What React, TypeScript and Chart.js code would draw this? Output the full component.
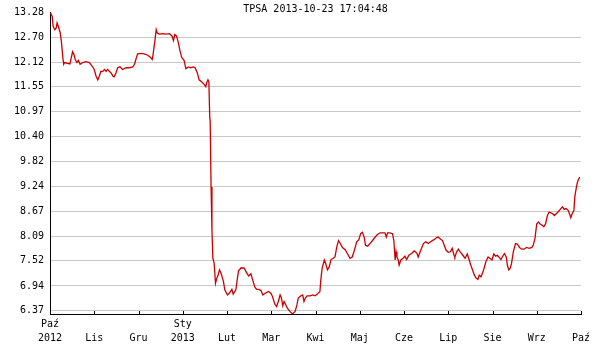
import React, { useEffect, useRef } from "react";
import { Chart, registerables } from "chart.js";

Chart.register(...registerables);

const TITLE = "TPSA 2013-10-23 17:04:48";
const MONTH_LABELS = ["Paź", "Lis", "Gru", "Sty", "Lut", "Mar", "Kwi", "Maj", "Cze", "Lip", "Sie", "Wrz", "Paź"];
const YEAR_LABELS: Record<number, string> = { 0: "2012", 3: "2013" };
const Y_TICKS = [6.37, 6.94, 7.52, 8.09, 8.67, 9.24, 9.82, 10.40, 10.97, 11.55, 12.12, 12.70, 13.28];
const Y_MIN = 6.29;
const Y_MAX = 13.28;

// time position in months since Paź 2012
const T = [
  0.01, 0.05, 0.07, 0.11, 0.14, 0.16, 0.20, 0.23, 0.26, 0.29, 0.31, 0.33, 0.45, 0.48, 0.51, 0.54, 0.57, 0.61, 0.64, 0.68,
  0.74, 0.81, 0.89, 0.95, 1.00, 1.04, 1.08, 1.11, 1.15, 1.19, 1.23, 1.27, 1.30, 1.34, 1.38, 1.42, 1.45, 1.49, 1.53, 1.58,
  1.64, 1.72, 1.79, 1.87, 1.91, 1.94, 1.98, 2.06, 2.13, 2.21, 2.26, 2.31, 2.33, 2.37, 2.40, 2.42, 2.47, 2.55, 2.62, 2.70,
  2.76, 2.79, 2.82, 2.86, 2.90, 2.94, 2.98, 3.03, 3.07, 3.13, 3.18, 3.24, 3.28, 3.33, 3.37, 3.43, 3.48, 3.52, 3.54, 3.57,
  3.59, 3.61, 3.62, 3.64, 3.66, 3.68, 3.71, 3.74, 3.77, 3.80, 3.83, 3.87, 3.92, 3.95, 4.01, 4.05, 4.11, 4.14, 4.20, 4.23,
  4.26, 4.32, 4.39, 4.45, 4.49, 4.54, 4.58, 4.63, 4.67, 4.72, 4.77, 4.81, 4.86, 4.90, 4.94, 4.99, 5.03, 5.08, 5.12, 5.16,
  5.20, 5.23, 5.26, 5.29, 5.33, 5.36, 5.42, 5.48, 5.54, 5.58, 5.61, 5.67, 5.71, 5.74, 5.77, 5.81, 5.88, 5.94, 5.99, 6.04,
  6.10, 6.12, 6.15, 6.20, 6.23, 6.27, 6.31, 6.35, 6.40, 6.44, 6.48, 6.52, 6.55, 6.61, 6.67, 6.72, 6.78, 6.83, 6.88, 6.93,
  6.98, 7.02, 7.06, 7.10, 7.13, 7.18, 7.23, 7.28, 7.34, 7.40, 7.46, 7.52, 7.57, 7.60, 7.63, 7.68, 7.74, 7.77, 7.80, 7.82,
  7.84, 7.87, 7.89, 7.93, 7.98, 8.02, 8.06, 8.11, 8.17, 8.23, 8.29, 8.32, 8.38, 8.44, 8.49, 8.55, 8.60, 8.64, 8.68, 8.74,
  8.77, 8.83, 8.87, 8.91, 8.95, 9.00, 9.05, 9.09, 9.13, 9.15, 9.19, 9.23, 9.27, 9.33, 9.38, 9.43, 9.47, 9.51, 9.55, 9.59,
  9.63, 9.67, 9.70, 9.74, 9.78, 9.81, 9.85, 9.90, 9.94, 9.99, 10.03, 10.07, 10.11, 10.15, 10.19, 10.22, 10.27, 10.31, 10.34, 10.37,
  10.40, 10.43, 10.47, 10.52, 10.56, 10.61, 10.66, 10.71, 10.77, 10.83, 10.89, 10.92, 10.96, 11.00, 11.04, 11.07, 11.13, 11.16, 11.20, 11.24,
  11.28, 11.32, 11.36, 11.40, 11.44, 11.48, 11.53, 11.58, 11.62, 11.66, 11.71, 11.74, 11.77, 11.80, 11.84, 11.86, 11.89, 11.92, 11.94, 11.97,
];

const PRICE = [
  13.26, 13.18, 12.95, 12.87, 12.91, 13.03, 12.91, 12.80, 12.57, 12.22, 12.07, 12.11, 12.08, 12.22, 12.36, 12.30, 12.18, 12.11, 12.16, 12.07,
  12.11, 12.13, 12.11, 12.03, 11.95, 11.80, 11.71, 11.78, 11.91, 11.90, 11.95, 11.91, 11.95, 11.91, 11.87, 11.80, 11.78, 11.87, 11.99, 12.01,
  11.95, 11.99, 11.99, 12.01, 12.07, 12.18, 12.31, 12.32, 12.31, 12.28, 12.24, 12.18, 12.30, 12.61, 12.87, 12.80, 12.77, 12.78, 12.77, 12.78,
  12.72, 12.62, 12.76, 12.72, 12.57, 12.37, 12.22, 12.16, 11.97, 12.01, 11.99, 12.01, 11.99, 11.87, 11.71, 11.66, 11.61, 11.55, 11.64, 11.71,
  11.67, 10.84, 10.76, 9.23, 8.23, 7.58, 7.46, 7.00, 7.12, 7.19, 7.31, 7.22, 7.04, 6.85, 6.73, 6.77, 6.86, 6.75, 6.85, 7.08,
  7.29, 7.36, 7.35, 7.23, 7.17, 7.22, 7.08, 6.91, 6.86, 6.86, 6.83, 6.73, 6.77, 6.79, 6.81, 6.77, 6.69, 6.52, 6.46, 6.58,
  6.73, 6.66, 6.48, 6.58, 6.50, 6.43, 6.35, 6.29, 6.35, 6.50, 6.66, 6.71, 6.73, 6.58, 6.66, 6.71, 6.71, 6.73, 6.71, 6.75,
  6.81, 7.08, 7.35, 7.54, 7.46, 7.31, 7.38, 7.55, 7.58, 7.61, 7.84, 7.99, 7.94, 7.83, 7.78, 7.69, 7.58, 7.61, 7.77, 7.96,
  8.01, 8.15, 8.18, 8.07, 7.88, 7.86, 7.92, 7.98, 8.06, 8.13, 8.17, 8.17, 8.17, 8.07, 8.17, 8.17, 8.15, 7.99, 7.54, 7.73,
  7.61, 7.54, 7.42, 7.54, 7.58, 7.63, 7.55, 7.65, 7.69, 7.75, 7.70, 7.61, 7.77, 7.92, 7.96, 7.92, 7.96, 7.99, 8.01, 8.06,
  8.07, 8.02, 7.99, 7.88, 7.77, 7.72, 7.73, 7.81, 7.65, 7.61, 7.73, 7.79, 7.73, 7.65, 7.58, 7.68, 7.55, 7.42, 7.31, 7.19,
  7.12, 7.09, 7.19, 7.15, 7.25, 7.35, 7.50, 7.61, 7.58, 7.54, 7.68, 7.63, 7.65, 7.60, 7.55, 7.61, 7.69, 7.61, 7.40, 7.31,
  7.35, 7.46, 7.73, 7.92, 7.91, 7.83, 7.79, 7.79, 7.83, 7.81, 7.83, 7.88, 8.04, 8.38, 8.42, 8.38, 8.34, 8.31, 8.38, 8.57,
  8.65, 8.63, 8.61, 8.57, 8.61, 8.65, 8.71, 8.77, 8.71, 8.73, 8.69, 8.61, 8.52, 8.61, 8.69, 9.00, 9.19, 9.34, 9.40, 9.46,
];

const FONT = { family: "'DejaVu Sans Mono', monospace", size: 10 };

export default function App() {
  const ref = useRef<HTMLCanvasElement | null>(null);

  useEffect(() => {
    if (!ref.current) return;
    const points = T.map((t, i) => ({ x: t, y: PRICE[i] }));

    const decorations = {
      id: "decorations",
      afterDraw(chart: any) {
        const { ctx, chartArea, scales } = chart;
        const xs = scales.x;
        ctx.save();
        // inward tick marks on x axis
        ctx.strokeStyle = "#000";
        ctx.lineWidth = 1;
        xs.ticks.forEach((tk: any) => {
          const px = Math.round(xs.getPixelForValue(tk.value)) + 0.5;
          ctx.beginPath();
          ctx.moveTo(px, chartArea.bottom);
          ctx.lineTo(px, chartArea.bottom - 3);
          ctx.stroke();
        });
        // title
        ctx.fillStyle = "#000";
        ctx.font = "10px 'DejaVu Sans Mono', monospace";
        ctx.textAlign = "center";
        ctx.textBaseline = "middle";
        ctx.fillText(TITLE, (chartArea.left + chartArea.right) / 2, 9);
        ctx.restore();
      },
    };

    const chart = new Chart(ref.current, {
      type: "line",
      data: {
        datasets: [
          {
            data: points,
            borderColor: "#cc0000",
            borderWidth: 1.3,
            pointRadius: 0,
            tension: 0,
            fill: false,
          },
        ],
      },
      options: {
        responsive: false,
        animation: false,
        events: [],
        layout: { padding: { top: 10.5, right: 19, left: 0, bottom: 0 } },
        plugins: { legend: { display: false }, tooltip: { enabled: false }, title: { display: false } },
        scales: {
          x: {
            type: "linear",
            min: 0,
            max: 12,
            afterBuildTicks: (scale: any) => {
              scale.ticks = MONTH_LABELS.map((_, i) => ({ value: i }));
            },
            afterFit: (scale: any) => {
              scale.height = 36;
            },
            grid: { display: false },
            border: { display: true, color: "#000", width: 1 },
            ticks: {
              autoSkip: false,
              maxRotation: 0,
              minRotation: 0,
              padding: -5,
              color: "#000",
              font: { ...FONT, lineHeight: "14px" } as any,
              callback: (value: any) => {
                const i = Math.round(Number(value));
                const m = MONTH_LABELS[i];
                const yr = YEAR_LABELS[i];
                return yr ? [m, yr] : ["", m];
              },
            },
          },
          y: {
            type: "linear",
            min: Y_MIN,
            max: Y_MAX,
            afterBuildTicks: (scale: any) => {
              scale.ticks = Y_TICKS.map((v) => ({ value: v }));
            },
            afterFit: (scale: any) => {
              scale.width = 50;
            },
            grid: {
              drawTicks: false,
              color: (c: any) => (c.tick && c.tick.value === Y_MAX ? "rgba(0,0,0,0)" : "#c8c8c8"),
              lineWidth: 1,
            },
            border: { display: true, color: "#000", width: 1 },
            ticks: {
              padding: 6,
              color: "#000",
              font: FONT,
              callback: (value: any) => Number(value).toFixed(2),
            },
          },
        },
      },
      plugins: [decorations],
    });
    return () => chart.destroy();
  }, []);

  return (
    <div style={{ position: "absolute", left: 0, top: 0, width: 600, height: 350, background: "#fff" }}>
      <canvas ref={ref} width={600} height={350} style={{ width: 600, height: 350 }} />
    </div>
  );
}
